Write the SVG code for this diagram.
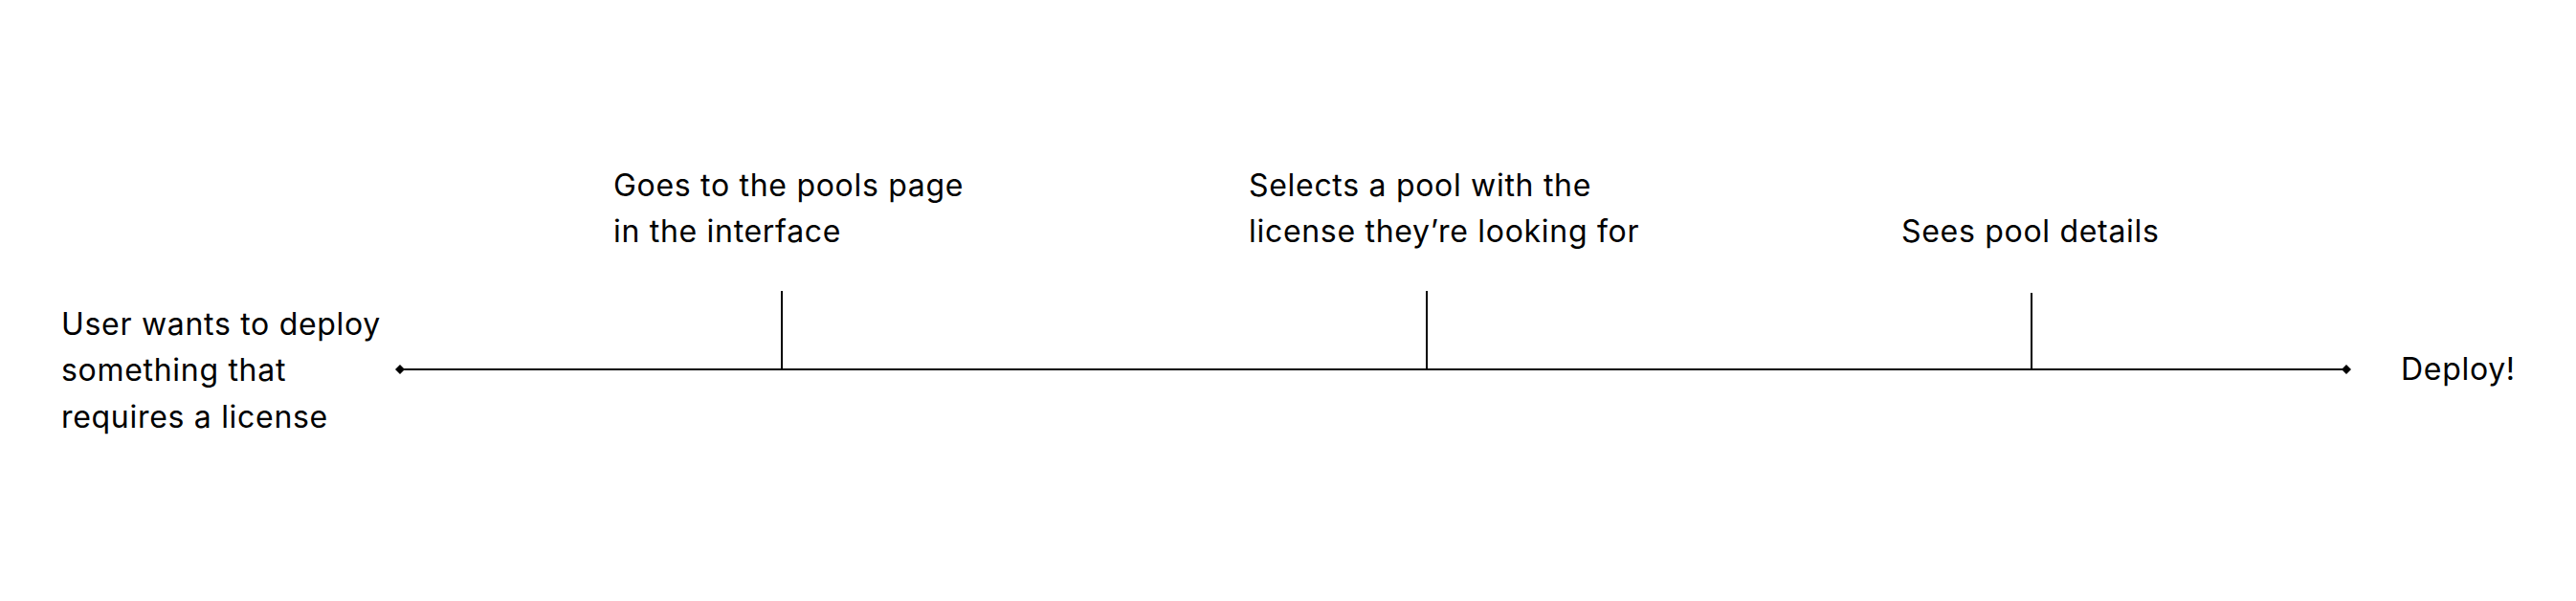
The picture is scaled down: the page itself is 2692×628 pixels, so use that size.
<svg xmlns="http://www.w3.org/2000/svg" width="2692" height="628" viewBox="0 0 2692 628">
<style>
text{font-family:Inter,"Noto Sans","Liberation Sans",sans-serif;font-size:32px;letter-spacing:0.7px;fill:#000}
.ln{stroke:#000;stroke-width:2;fill:none}
</style>
<defs>
<marker id="dia" viewBox="0 0 10 10" refX="5" refY="5" markerWidth="10" markerHeight="10" markerUnits="userSpaceOnUse"><path d="M0 5L5 0L10 5L5 10Z" fill="#000"/></marker>
</defs>
<rect width="2692" height="628" fill="#fff"/>
<g id="connectors">
<line class="ln" x1="418" y1="386" x2="2452" y2="386" marker-start="url(#dia)" marker-end="url(#dia)"/>
<line class="ln" x1="817" y1="304" x2="817" y2="386"/>
<line class="ln" x1="1491" y1="304" x2="1491" y2="386"/>
<line class="ln" x1="2123" y1="306" x2="2123" y2="386"/>
</g>
<g id="start"><text x="64" y="350">User wants to deploy</text><text x="64" y="398">something that</text><text x="64" y="447">requires a license</text></g>
<g id="step1"><text x="641" y="205">Goes to the pools page</text><text x="641" y="253">in the interface</text></g>
<g id="step2"><text x="1305" y="205">Selects a pool with the</text><text x="1305" y="253">license they’re looking for</text></g>
<g id="step3"><text x="1987" y="253">Sees pool details</text></g>
<g id="end"><text x="2509" y="397">Deploy!</text></g>
</svg>
